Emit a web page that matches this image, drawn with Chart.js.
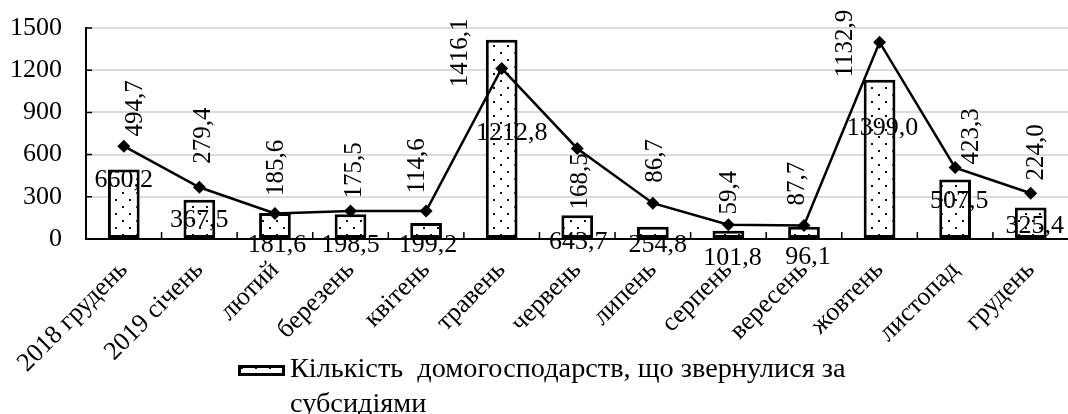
<!DOCTYPE html>
<html lang="uk">
<head>
<meta charset="utf-8">
<title>Субсидії</title>
<script src="https://cdn.jsdelivr.net/npm/chart.js@4.4.1/dist/chart.umd.min.js"></script>
<style>
  html, body { margin: 0; padding: 0; background: #fff; overflow: hidden; }
  #wrap { width: 1068px; height: 414px; overflow: hidden; }
  canvas { display: block; }
</style>
</head>
<body>
<div id="wrap"><canvas id="chart" width="1075" height="414"></canvas></div>
<script>
// Months of the reporting period
const categories = ['2018 грудень', '2019 січень', 'лютий', 'березень', 'квітень', 'травень',
  'червень', 'липень', 'серпень', 'вересень', 'жовтень', 'листопад', 'грудень'];

// Households that applied for subsidies (bars)
const households = [494.7, 279.4, 185.6, 175.5, 114.6, 1416.1, 168.5, 86.7, 59.4, 87.7, 1132.9, 423.3, 224.0];

// Second series, drawn as a line with diamond markers
const lineSeries = [660.2, 367.5, 181.6, 198.5, 199.2, 1212.8, 643.7, 254.8, 101.8, 96.1, 1399.0, 507.5, 325.4];

// Value axis ticks
const yTicks = [0, 300, 600, 900, 1200, 1500];

const legendText = ['Кількість  домогосподарств, що звернулися за', 'субсидіями'];

// Hand-placed label nudges (px): bar labels relative to the bar top centre,
// line labels relative to the marker
const barLabelShift = [[12, -61], [4, -64], [1, -45], [4, -44], [-9, -57], [-41, 13], [3, -34],
  [3, -66], [1, -38], [-7, -43], [-34, -36], [16, -43], [6, -55]];
const lineLabelShift = [[0, 34], [0, 33], [2, 32], [0, 34], [2, 34], [10, 65], [1, 94],
  [5, 42], [4, 33], [4, 32], [3, 86], [4, 34], [4, 33]];

const FONT = "'Liberation Serif', 'Times New Roman', serif";
const fmt = v => v.toFixed(1).replace('.', ',');

// Dotted fill used by the bars and the legend swatch
function dotPattern() {
  const tile = document.createElement('canvas');
  tile.width = 14; tile.height = 14;
  const t = tile.getContext('2d');
  t.fillStyle = '#fff';
  t.fillRect(0, 0, 14, 14);
  t.fillStyle = '#111';
  t.fillRect(3, 3, 2, 2);
  t.fillRect(10, 10, 2, 2);
  return document.createElement('canvas').getContext('2d').createPattern(tile, 'repeat');
}
const dots = dotPattern();

// Short inward tick marks on both axes
const innerTicks = {
  id: 'innerTicks',
  beforeDatasetsDraw(chart) {
    const { ctx, scales: { x, y } } = chart;
    ctx.save();
    ctx.strokeStyle = '#000';
    ctx.lineWidth = 1.5;
    ctx.beginPath();
    for (let i = 1; i < categories.length; i++) {
      const px = (x.getPixelForValue(i - 1) + x.getPixelForValue(i)) / 2;
      ctx.moveTo(px, y.bottom);
      ctx.lineTo(px, y.bottom - 7);
    }
    yTicks.slice(1).forEach(v => {
      const py = y.getPixelForValue(v);
      ctx.moveTo(x.left, py);
      ctx.lineTo(x.left + 6, py);
    });
    ctx.stroke();
    ctx.restore();
  }
};

// Value labels: rotated for the bars, horizontal for the line
const valueLabels = {
  id: 'valueLabels',
  afterDatasetsDraw(chart) {
    const { ctx } = chart;
    const barMeta = chart.getDatasetMeta(1);
    const lineMeta = chart.getDatasetMeta(0);
    ctx.save();
    ctx.fillStyle = '#000';
    ctx.textAlign = 'center';
    ctx.textBaseline = 'middle';
    ctx.font = '25px ' + FONT;
    barMeta.data.forEach((el, i) => {
      const [dx, dy] = barLabelShift[i];
      ctx.save();
      ctx.translate(el.x + dx, el.y + dy);
      ctx.rotate(-Math.PI / 2);
      ctx.fillText(fmt(households[i]), 0, 0);
      ctx.restore();
    });
    ctx.font = '26px ' + FONT;
    lineMeta.data.forEach((el, i) => {
      const [dx, dy] = lineLabelShift[i];
      ctx.fillText(fmt(lineSeries[i]), el.x + dx, el.y + dy);
    });
    ctx.restore();
  }
};

// Two-line legend under the category labels
const wrappedLegend = {
  id: 'wrappedLegend',
  afterDraw(chart) {
    const { ctx } = chart;
    ctx.save();
    ctx.fillStyle = dots;
    ctx.fillRect(238, 365, 47, 11);
    ctx.strokeStyle = '#000';
    ctx.lineWidth = 3;
    ctx.strokeRect(239.5, 366.5, 44, 8);
    ctx.fillStyle = '#000';
    ctx.font = '28.3px ' + FONT;
    ctx.textAlign = 'left';
    ctx.textBaseline = 'alphabetic';
    ctx.fillText(legendText[0], 290, 377);
    ctx.fillText(legendText[1], 290, 412);
    ctx.restore();
  }
};

new Chart(document.getElementById('chart'), {
  data: {
    labels: categories,
    datasets: [
      {
        type: 'line',
        label: 'лінія',
        data: lineSeries,
        borderColor: '#000',
        backgroundColor: '#000',
        borderWidth: 2.5,
        pointStyle: 'rectRot',
        pointRadius: 6.5,
        pointBackgroundColor: '#000',
        pointBorderWidth: 0,
        tension: 0,
        order: 0
      },
      {
        type: 'bar',
        label: legendText.join(' '),
        data: households,
        backgroundColor: dots,
        borderColor: '#000',
        borderWidth: 3,
        borderSkipped: false,
        categoryPercentage: 1,
        barPercentage: 0.42,
        order: 1
      }
    ]
  },
  options: {
    responsive: false,
    animation: false,
    devicePixelRatio: 1,
    layout: { padding: { top: 28, right: 3, left: 0, bottom: 0 } },
    plugins: {
      legend: { display: false },
      tooltip: { enabled: false },
      title: { display: false }
    },
    scales: {
      x: {
        offset: true,
        grid: { display: false, drawTicks: false },
        border: { display: true, color: '#000', width: 2 },
        ticks: {
          autoSkip: false,
          maxRotation: 45,
          minRotation: 45,
          padding: 16,
          color: '#000',
          font: { family: FONT, size: 26 }
        },
        afterFit: s => { s.height = 175; }
      },
      y: {
        min: 0,
        max: 1500,
        afterBuildTicks: s => { s.ticks = yTicks.map(v => ({ value: v })); },
        grid: { color: '#dcdcdc', lineWidth: 2, drawTicks: false },
        border: { display: true, color: '#000', width: 2 },
        ticks: {
          padding: 24,
          color: '#000',
          font: { family: FONT, size: 26 },
          callback: v => String(v)
        },
        afterFit: s => {
          s.width = 86;
          s.paddingTop = 0;
          s.paddingBottom = 0;
        }
      }
    }
  },
  plugins: [innerTicks, valueLabels, wrappedLegend]
});
</script>
</body>
</html>
